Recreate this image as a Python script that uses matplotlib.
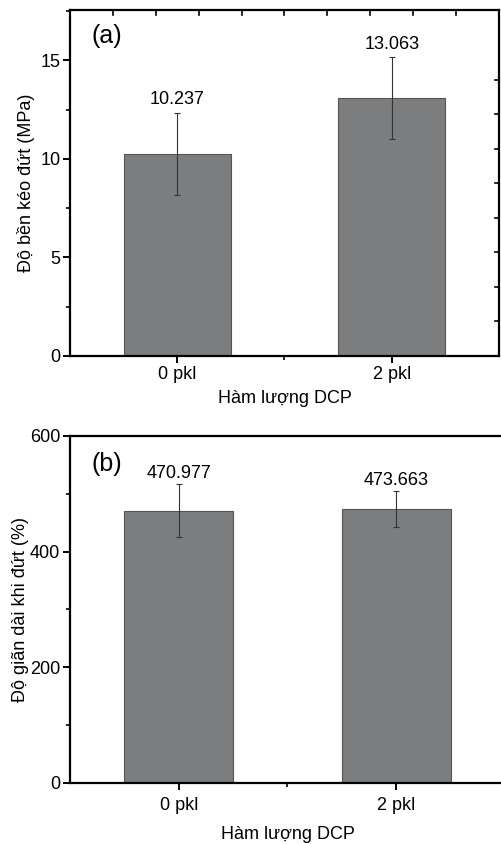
import numpy as np
import matplotlib
matplotlib.use("Agg")
import matplotlib.pyplot as plt
from matplotlib.ticker import MultipleLocator, FixedLocator

plt.rcParams['font.family'] = ['Liberation Sans', 'DejaVu Sans']

categories = ["0 pkl", "2 pkl"]
strength = [10.237, 13.063]
strength_err = [2.07, 2.08]
elong = [470.977, 473.663]
elong_err = [46, 31]

bar_color = "#7b7d7f"
edge_color = "#555555"

fig = plt.figure(figsize=(5.02, 8.44), dpi=100)

# panel (a)
ax1 = fig.add_axes([70/502, 1-356/844, 429/502, 346/844])
x = np.arange(len(categories))
ax1.bar(x, strength, width=0.5, color=bar_color, edgecolor=edge_color, linewidth=0.8)
ax1.errorbar(x, strength, yerr=strength_err, fmt='none', ecolor='#333333',
             elinewidth=0.8, capsize=2.5, capthick=0.8)
for xi, v, e in zip(x, strength, strength_err):
    ax1.text(xi, v + e + 0.25, "%.3f" % v, ha='center', va='bottom', fontsize=13)
ax1.set_xlim(-0.5, 1.5)
ax1.set_ylim(0, 17.55)
ax1.set_xticks(x)
ax1.set_xticklabels(categories)
ax1.xaxis.set_minor_locator(FixedLocator([0.5]))
ax1.yaxis.set_major_locator(MultipleLocator(5))
ax1.yaxis.set_minor_locator(MultipleLocator(2.5))
ax1.set_ylabel("Độ bền kéo đứt (MPa)", fontsize=13, labelpad=4)
ax1.set_xlabel("Hàm lượng DCP", fontsize=13, labelpad=5)
ax1.text(0.05, 0.96, "(a)", transform=ax1.transAxes, fontsize=18, va='top', ha='left')

# mirrored ticks on top and right (inward)
for yy in np.arange(1.78, 15, 1.745):
    ax1.plot([1.5, 1.5 - 0.02], [yy, yy], color='black', lw=1.2, clip_on=False)
for xx in np.arange(-0.3, 1.4, 0.2):
    ax1.plot([xx, xx], [17.55, 17.55 - 0.25], color='black', lw=1.2, clip_on=False)

# panel (b)
ax2 = fig.add_axes([70/502, 1-782.7/844, 435/502, 346.7/844])
ax2.bar(x, elong, width=0.5, color=bar_color, edgecolor=edge_color, linewidth=0.8)
ax2.errorbar(x, elong, yerr=elong_err, fmt='none', ecolor='#333333',
             elinewidth=0.8, capsize=2.5, capthick=0.8)
for xi, v, e in zip(x, elong, elong_err):
    ax2.text(xi, v + e + 3, "%.3f" % v, ha='center', va='bottom', fontsize=13)
ax2.set_xlim(-0.5, 1.5)
ax2.set_ylim(0, 600)
ax2.set_xticks(x)
ax2.set_xticklabels(categories)
ax2.xaxis.set_minor_locator(FixedLocator([0.5]))
ax2.yaxis.set_major_locator(MultipleLocator(200))
ax2.yaxis.set_minor_locator(MultipleLocator(100))
ax2.set_ylabel("Độ giãn dài khi đứt (%)", fontsize=13, labelpad=1)
ax2.set_xlabel("Hàm lượng DCP", fontsize=13, labelpad=9)
ax2.text(0.05, 0.955, "(b)", transform=ax2.transAxes, fontsize=18, va='top', ha='left')

for ax in (ax1, ax2):
    for s in ax.spines.values():
        s.set_linewidth(1.6)
    ax.tick_params(axis='both', which='major', direction='out', length=5, width=1.4,
                   labelsize=13, pad=2)
    ax.tick_params(axis='both', which='minor', direction='out', length=3, width=1.2)
ax2.tick_params(axis='x', which='major', pad=5)

fig.savefig("out.png", dpi=100)
